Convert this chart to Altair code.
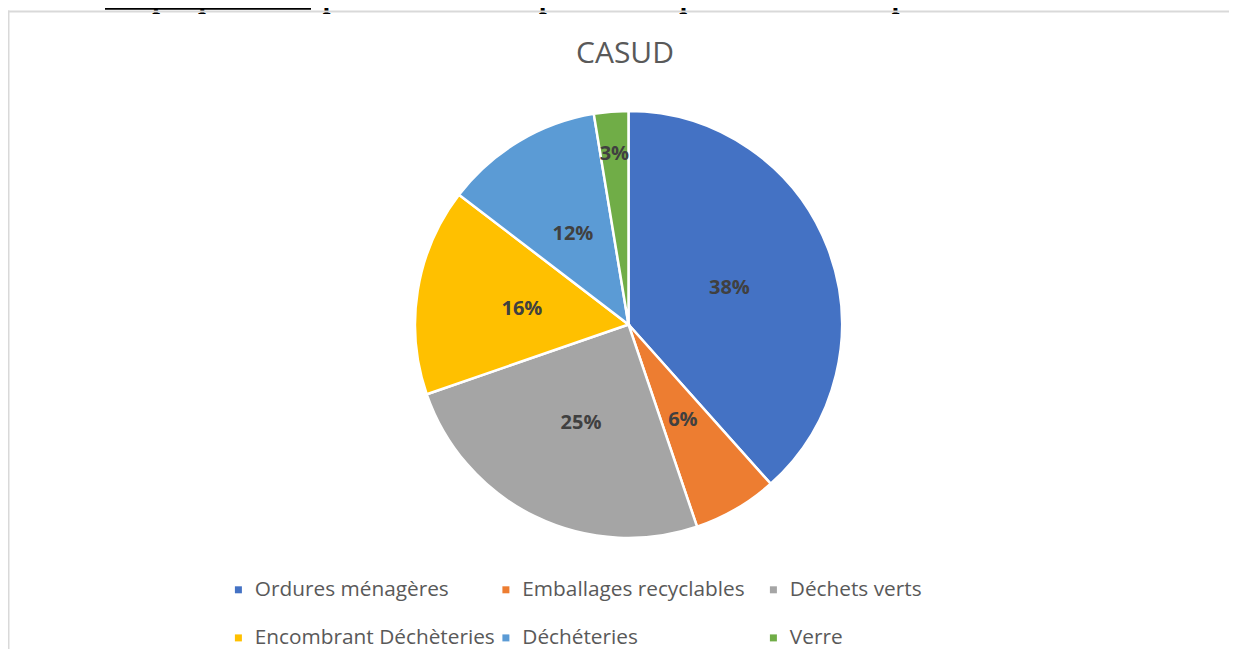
import altair as alt
import pandas as pd

# Data
categories = ["Ordures ménagères", "Emballages recyclables", "Déchets verts",
              "Encombrant Déchèteries", "Déchéteries", "Verre"]
shares = [38.4, 6.4, 24.9, 15.7, 12.0, 2.6]
colors = ["#4472C4", "#ED7D31", "#A5A5A5", "#FFC000", "#5B9BD5", "#70AD47"]
chart_title = "CASUD"
heading = "Graphique 18 : Représentation de la part de chaque flux de déchet produit en 2020 sur la CASUD"

df = pd.DataFrame({"category": categories, "value": shares, "idx": list(range(len(categories)))})

W, H = 1221, 641
CX, CY = 620.5, 316.5

base = alt.Chart(df).transform_calculate(
    pct="format(datum.value / 100, '.0%')"
).transform_calculate(
    lab_in="datum.value >= 5 ? datum.pct : ''",
    lab_out="datum.value < 5 ? datum.pct : ''",
)

theta = alt.Theta("value:Q", stack=True)
order = alt.Order("idx:Q", sort="ascending")

pie = base.mark_arc(radius=213.5, stroke="white", strokeWidth=2.5).encode(
    theta=theta,
    order=order,
    color=alt.Color(
        "category:N",
        scale=alt.Scale(domain=categories, range=colors),
        legend=alt.Legend(
            title=None,
            orient="none",
            legendX=220,
            legendY=571,
            columns=3,
            direction="horizontal",
            gridAlign="all",
            columnPadding=0.5,
            rowPadding=26.5,
            symbolType="square",
            symbolSize=49,
            symbolStrokeWidth=0,
            labelFont="Open Sans",
            labelFontSize=20.8,
            labelColor="#595959",
            labelOffset=6,
            labelLimit=500,
            padding=0,
        ),
    ),
    x=alt.value(CX),
    y=alt.value(CY),
)

lab_style = dict(font="Open Sans", fontSize=20, fontWeight="bold", color="#404040", dy=2)

labels_in = base.mark_text(radius=108, **lab_style).encode(
    theta=theta, order=order, text="lab_in:N", x=alt.value(CX), y=alt.value(CY)
)
labels_out = base.mark_text(radius=173, **lab_style).encode(
    theta=theta, order=order, text="lab_out:N", x=alt.value(CX), y=alt.value(CY)
)

title_txt = alt.Chart(pd.DataFrame({"t": [chart_title]})).mark_text(
    font="Open Sans", fontSize=30, color="#595959", align="center", baseline="alphabetic"
).encode(text="t:N", x=alt.value(617), y=alt.value(55))

heading_txt = alt.Chart(pd.DataFrame({"t": [heading]})).mark_text(
    font="Liberation Serif", fontSize=27.5, fontWeight="bold", color="#000000",
    align="left", baseline="alphabetic"
).encode(text="t:N", x=alt.value(97), y=alt.value(0))

frame_df = pd.DataFrame({"k": [0]})
heading_ul = alt.Chart(frame_df).mark_rule(color="#000000", strokeWidth=2.5).encode(
    x=alt.value(97), x2=alt.value(303), y=alt.value(0.5)
)
frame_top = alt.Chart(frame_df).mark_rule(color="#D9D9D9", strokeWidth=2).encode(
    x=alt.value(0), x2=alt.value(W), y=alt.value(3.5)
)
frame_left = alt.Chart(frame_df).mark_rule(color="#D9D9D9", strokeWidth=2).encode(
    x=alt.value(0.5), y=alt.value(2.5), y2=alt.value(H)
)

chart = alt.layer(
    heading_txt, heading_ul, frame_top, frame_left, pie, labels_in, labels_out, title_txt
).properties(
    width=W, height=H, padding=0,
    autosize=alt.AutoSizeParams(type="none"),
    view=alt.ViewBackground(stroke="transparent", strokeWidth=0),
).configure_view(stroke="transparent", strokeWidth=0).configure(background="transparent")

chart.save("out.html", embed_options={"renderer": "svg", "actions": False})
